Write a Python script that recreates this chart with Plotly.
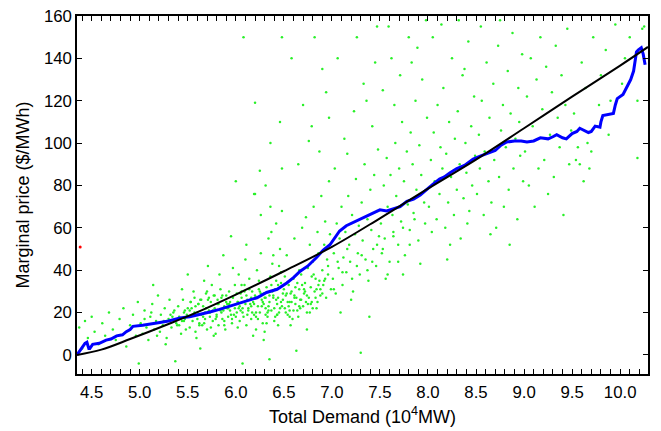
import plotly.graph_objects as go

# blue running curve
blue_x = [4.347, 4.38, 4.41, 4.43, 4.45, 4.47, 4.48, 4.51, 4.58, 4.65,
          4.70, 4.76, 4.82, 4.86, 4.90, 4.93, 5.03, 5.12, 5.21, 5.30,
          5.42, 5.52, 5.625, 5.73, 5.83, 5.97, 6.10, 6.22, 6.32, 6.43,
          6.53, 6.60, 6.67, 6.75, 6.84, 6.91, 6.98, 7.03, 7.08, 7.15,
          7.22, 7.29, 7.36, 7.43, 7.50, 7.57, 7.64, 7.71, 7.78, 7.85,
          7.92, 7.98, 8.05, 8.12, 8.17, 8.23, 8.30, 8.38, 8.47, 8.55,
          8.62, 8.70, 8.76, 8.82, 8.90, 8.97, 9.03, 9.10, 9.17, 9.25,
          9.30, 9.34, 9.40, 9.44, 9.50, 9.55, 9.58, 9.63, 9.67, 9.70,
          9.74, 9.79, 9.80, 9.82, 9.87, 9.93, 9.95, 9.97, 10.03, 10.08,
          10.11, 10.14, 10.16, 10.17, 10.19, 10.22, 10.24, 10.25, 10.26]
blue_y = [0, 2, 4, 5.5, 6, 3, 3, 5, 5.5, 7,
          7.5, 9, 9.5, 11, 12, 13.5, 14, 14.5, 15.3, 16,
          17.5, 18, 19, 20.3, 21.5, 23.5, 25, 27, 29.5, 31,
          34, 36.5, 39.5, 42, 46, 49.5, 52, 55.5, 58.5, 61,
          62.5, 64, 65.5, 67, 68.5, 68, 69, 70, 72.5, 73.5,
          75.5, 78, 80.5, 83, 84, 86, 88, 89.5, 92.5, 94,
          95, 96.5, 99, 100.5, 101, 101, 100.5, 101, 102.5, 102,
          103, 104, 102.5, 102, 104.5, 105.5, 107, 106, 105, 105.5,
          108, 107.5, 110, 113, 113.5, 114, 118, 121, 123, 127,
          130, 134, 139, 143, 144, 145, 142, 139, 137]

# black fitted curve
fit_x = [4.347, 4.6, 4.9, 5.3, 5.6, 6.0, 6.5, 7.0, 7.5, 8.0, 8.5, 9.0, 9.5, 10.0, 10.29]
fit_y = [0, 2.5, 7.5, 14.6, 20.2, 28.5, 39.5, 51, 64.5, 78.5, 92.2, 107, 121.9, 136.6, 145.4]

# green cloud, by demand band
dots_x = [
    4.37, 4.40, 4.43, 4.46, 4.50, 4.53, 4.57, 4.61, 4.64, 4.68,
    4.72, 4.75, 4.79, 4.83, 4.86, 4.90, 4.93, 4.96, 4.98, 4.99,
    5.01, 5.03, 5.05, 5.07, 5.09, 5.11, 5.13, 5.15, 5.17, 5.19,
    5.21, 5.22, 5.24, 5.26, 5.28, 5.30, 5.31, 5.33, 5.35, 5.37,
    5.38, 5.40, 5.41, 5.43, 5.44, 5.46, 5.47, 5.48, 5.49, 5.50,
    5.05, 5.12, 5.18, 5.25, 5.32, 5.39, 5.45, 5.14, 5.27, 5.42,
    5.51, 5.52, 5.54, 5.55, 5.57, 5.58, 5.60, 5.61, 5.62, 5.64,
    5.65, 5.66, 5.68, 5.69, 5.70, 5.72, 5.73, 5.74, 5.76, 5.77,
    5.78, 5.80, 5.81, 5.82, 5.84, 5.85, 5.86, 5.88, 5.89, 5.90,
    5.92, 5.93, 5.94, 5.96, 5.97, 5.98, 5.99, 5.53, 5.59, 5.67,
    5.71, 5.79, 5.83, 5.87, 5.91, 5.95, 5.56, 5.63, 5.75, 5.97,
    5.52, 5.60, 5.68, 5.74, 5.82, 5.88, 5.93, 5.99, 5.64, 5.78,
    6.01, 6.02, 6.04, 6.05, 6.07, 6.08, 6.09, 6.11, 6.12, 6.13,
    6.15, 6.16, 6.17, 6.19, 6.20, 6.21, 6.23, 6.24, 6.25, 6.27,
    6.28, 6.29, 6.31, 6.32, 6.33, 6.35, 6.36, 6.37, 6.39, 6.40,
    6.41, 6.43, 6.44, 6.45, 6.47, 6.48, 6.49, 6.03, 6.10, 6.18,
    6.22, 6.26, 6.30, 6.34, 6.38, 6.42, 6.46, 6.06, 6.14, 6.36,
    6.04, 6.12, 6.20, 6.28, 6.33, 6.41, 6.47, 6.16, 6.24, 6.44,
    6.07, 6.19, 6.29, 6.37, 6.45, 6.26, 6.11, 6.39, 6.48, 6.35,
    6.51, 6.52, 6.54, 6.55, 6.56, 6.58, 6.59, 6.60, 6.62, 6.63,
    6.64, 6.66, 6.67, 6.68, 6.70, 6.71, 6.72, 6.74, 6.75, 6.76,
    6.78, 6.79, 6.80, 6.82, 6.83, 6.84, 6.86, 6.87, 6.88, 6.90,
    6.91, 6.92, 6.94, 6.95, 6.96, 6.98, 6.99, 6.53, 6.61, 6.69,
    6.73, 6.77, 6.81, 6.85, 6.89, 6.93, 6.97, 6.57, 6.65, 6.74,
    6.79, 6.87, 6.94, 6.58, 6.70, 6.82, 6.90, 6.63, 6.76, 6.97,
    7.01, 7.02, 7.04, 7.05, 7.07, 7.08, 7.10, 7.11, 7.12, 7.14,
    7.15, 7.17, 7.18, 7.19, 7.21, 7.22, 7.24, 7.25, 7.27, 7.28,
    7.29, 7.31, 7.32, 7.34, 7.35, 7.37, 7.38, 7.40, 7.41, 7.43,
    7.44, 7.46, 7.47, 7.48, 7.49, 7.03, 7.13, 7.23, 7.33, 7.42,
    7.06, 7.16, 7.26, 7.36, 7.45, 7.09, 7.20, 7.30, 7.39, 7.47,
    7.51, 7.52, 7.54, 7.55, 7.57, 7.58, 7.60, 7.61, 7.63, 7.64,
    7.66, 7.67, 7.69, 7.70, 7.72, 7.73, 7.75, 7.76, 7.78, 7.79,
    7.81, 7.82, 7.84, 7.85, 7.87, 7.88, 7.90, 7.91, 7.93, 7.94,
    7.96, 7.97, 7.99, 7.53, 7.62, 7.71, 7.80, 7.89, 7.98, 7.56,
    7.65, 7.74, 7.83, 7.92, 7.59, 6.08, 6.20, 6.25, 6.00, 6.31,
    8.01, 8.03, 8.04, 8.06, 8.07, 8.09, 8.10, 8.12, 8.13, 8.15,
    8.16, 8.18, 8.19, 8.21, 8.22, 8.24, 8.25, 8.27, 8.28, 8.30,
    8.31, 8.33, 8.34, 8.36, 8.37, 8.39, 8.40, 8.42, 8.43, 8.45,
    8.46, 8.48, 8.49, 8.05, 8.14, 8.23, 8.32, 8.41, 8.20, 8.38,
    8.51, 8.53, 8.54, 8.56, 8.58, 8.59, 8.61, 8.63, 8.64, 8.66,
    8.68, 8.69, 8.71, 8.73, 8.74, 8.76, 8.78, 8.79, 8.81, 8.83,
    8.84, 8.86, 8.88, 8.89, 8.91, 8.93, 8.94, 8.96, 8.98, 8.99,
    8.55, 8.65, 8.75, 8.85, 8.95, 6.36, 6.48, 6.46, 6.48, 6.20,
    9.01, 9.03, 9.05, 9.07, 9.09, 9.11, 9.13, 9.15, 9.17, 9.19,
    9.21, 9.23, 9.25, 9.27, 9.29, 9.31, 9.33, 9.35, 9.37, 9.39,
    9.41, 9.43, 9.45, 9.47, 9.49, 10.23, 10.18, 9.62, 9.70, 9.58,
    9.52, 9.56, 9.60, 9.64, 9.68, 9.72, 9.76, 9.80, 9.85, 9.90,
    9.95, 10.02, 10.10, 10.18, 10.25, 9.54, 9.66, 9.78, 9.88, 10.05,
    5.34, 5.46, 5.58, 5.66, 5.73, 5.81, 5.87, 5.94, 6.00, 6.06,
    6.13, 6.18, 6.23, 6.30, 6.34, 6.38, 6.42, 6.46, 6.50, 6.54,
    6.57, 6.60, 6.64, 6.68, 6.71, 6.75, 6.79, 6.83, 6.86, 6.90,
    6.09, 6.21, 6.32, 6.43, 6.56, 6.66, 6.77, 5.90, 5.77, 6.02,
    5.36, 5.41, 5.47, 5.53, 5.57, 5.62, 5.69, 5.72, 5.79, 5.84,
    5.91, 5.95, 6.01, 6.05, 6.10, 6.14, 6.17, 6.22, 6.27, 6.31,
    6.35, 6.40, 6.44, 6.49, 6.52, 6.58, 6.62, 6.67, 6.72, 6.81,
    6.85, 6.92, 6.96, 7.02, 7.06, 7.11, 7.16, 7.21, 7.26, 7.31,
    7.37, 7.42, 7.47, 7.53, 7.58, 7.64, 7.69, 7.74, 7.81, 7.86,
    5.63, 5.85, 6.03, 6.15, 6.26, 6.37, 6.51, 6.61, 6.73, 6.88,
    5.44, 5.50, 5.55, 5.61, 5.67, 5.71, 5.76, 5.80, 5.86, 5.92,
    5.96, 6.02, 6.07, 6.11, 6.16, 6.21, 6.25, 6.29, 6.34, 6.39,
    6.43, 6.47, 6.53, 6.56, 6.61, 6.65, 6.69, 6.74, 6.78, 6.84,
    5.70, 5.88, 6.06, 6.19, 6.31, 6.42, 6.55, 6.66, 6.80, 6.93,
]
dots_y = [
    13, 3, 16, 8, 18, 11, 5, 15, 9, 20,
    12, 7, 17, 22, 4, 14, 19, 9, 25, -4,
    15, 10, 21, 13, 7, 18, 24, 12, 16, 28,
    11, 19, 14, 22, 8, 17, 26, 13, 20, -3,
    15, 23, 18, 10, 31, 16, 21, 12, 19, 38,
    17, 20, 9, 16, 19, 14, 26, 33, 5, 17,
    18, 13, 22, 16, 27, 11, 20, 24, 15, 19,
    14, 23, 17, 29, 12, 21, 18, 25, 16, 9,
    22, 19, 26, 14, 31, 20, 17, 23, 12, 28,
    18, 24, 21, 15, 27, 19, 33, 25, 8, 35,
    42, 10, 38, 47, 22, 56, 30, 3, 33, 41,
    21, 17, 20, 13, 24, 16, 30, 22, 26, 28,
    20, 25, 16, 29, 22, 18, 33, 14, 26, 21,
    24, 17, 30, 19, 27, 12, 23, 35, 20, 26,
    15, 29, 22, 32, 18, 25, 37, 21, 28, 16,
    31, 24, 27, 20, 34, 23, 29, 38, 45, 9,
    40, 48, 11, 55, 43, 62, 50, 30, 36, 70,
    23, 19, 28, 25, 20, 18, 39, 27, 31, 14,
    -4, 76, 7, 58, 42, 66, 52, 47, 68, -2,
    22, 28, 19, 33, 25, 30, 17, 36, 24, 27,
    21, 31, 26, 38, 23, 29, 34, 20, 41, 27,
    32, 25, 44, 30, 36, 22, 48, 35, 28, 40,
    33, 52, 27, 45, 38, 57, 31, 47, 55, 60,
    65, 52, 70, 58, 75, 63, 82, 14, 90, 12,
    108, 96, 124, 140, 118, 150, 135, 2, 101, 112,
    36, 48, 29, 62, 41, 55, 70, 33, 46, 58,
    39, 75, 52, 44, 66, 30, 57, 83, 48, 61,
    38, 72, 54, 90, 45, 64, 35, 78, 59, 50,
    85, 42, 68, 97, 56, 88, 102, 115, 128, 108,
    140, 95, 150, 120, 138, 20, 26, 1, 18, 155,
    62, 48, 80, 55, 93, 70, 44, 85, 66, 58,
    100, 75, 52, 88, 63, 110, 82, 47, 96, 71,
    59, 105, 90, 67, 120, 78, 54, 99, 85, 130,
    72, 62, 112, 125, 140, 132, 150, 145, 158, 36,
    118, 38, 138, 43, 155, 150, 119, 87, 82, 80,
    70, 92, 58, 105, 82, 64, 118, 76, 98, 88,
    126, 60, 95, 72, 110, 84, 140, 66, 102, 78,
    115, 90, 55, 132, 74, 100, 86, 148, 68, 108,
    80, 122, 94, 150, 156, 52, 158, 62, 45, 135,
    76, 104, 88, 120, 66, 96, 138, 82, 112, 72,
    128, 92, 60, 146, 84, 106, 118, 70, 98, 134,
    78, 114, 152, 88, 102, 64, 126, 94, 142, 82,
    155, 57, 158, 52, 110, 100, 150, 110, 88, 76,
    96, 122, 80, 140, 108, 70, 130, 88, 150, 116,
    92, 136, 76, 104, 124, 84, 146, 112, 98, 132,
    66, 118, 154, 90, 106, 154, 93, 82, 96, 90,
    114, 98, 138, 126, 88, 150, 108, 132, 144, 120,
    156, 128, 150, 120, 155, 92, 100, 118, 104, 140,
    18, 20, 23, 18, 20, 24, 21, 25, 18, 27,
    22, 25, 17, 27, 23, 30, 26, 22, 31, 25,
    29, 21, 34, 26, 31, 24, 37, 27, 33, 29,
    30, 20, 15, 19, 18, 23, 20, 25, 28, 13,
    21, 14, 17, 25, 20, 14, 22, 27, 17, 21,
    24, 19, 29, 21, 24, 31, 20, 27, 23, 19,
    28, 22, 33, 26, 20, 25, 32, 22, 30, 38,
    25, 35, 42, 31, 44, 39, 50, 36, 42, 47,
    40, 44, 52, 50, 38, 56, 44, 60, 52, 64,
    26, 27, 22, 26, 29, 33, 37, 28, 25, 31,
    16, 22, 19, 24, 15, 26, 21, 18, 28, 22,
    17, 25, 20, 28, 23, 18, 30, 24, 21, 27,
    19, 25, 29, 21, 27, 18, 33, 28, 24, 31,
    30, 14, 33, 24, 27, 35, 23, 40, 22, 36,
]

# one stray red point near the left axis
red_x = [4.38]
red_y = [51]

fig = go.Figure()
fig.add_trace(go.Scatter(x=dots_x, y=dots_y, mode="markers",
                         marker=dict(color="rgb(40,240,40)", size=2.5, line_width=0),
                         hoverinfo="skip"))
fig.add_trace(go.Scatter(x=red_x, y=red_y, mode="markers",
                         marker=dict(color="red", size=3, line_width=0)))
fig.add_trace(go.Scatter(x=blue_x, y=blue_y, mode="lines",
                         line=dict(color="#0000ff", width=3)))
fig.add_trace(go.Scatter(x=fit_x, y=fit_y, mode="lines", line_shape="spline",
                         line=dict(color="black", width=2)))

# page body adds an 8px offset, so the figure is a bit smaller than the window
font = "Liberation Sans, Arial, Helvetica, sans-serif"
fig.update_layout(
    width=653, height=423,
    margin=dict(l=69, r=13, t=8, b=57),
    paper_bgcolor="white", plot_bgcolor="white",
    showlegend=False,
    font=dict(family=font, size=15.3, color="black"),
)
fig.update_xaxes(
    range=[4.347, 10.29], tick0=4.5, dtick=0.5, tickformat=".1f",
    ticks="inside", ticklen=5, tickwidth=1, tickcolor="black",
    minor=dict(dtick=0.1, ticks="inside", ticklen=5, tickwidth=1, tickcolor="black"),
    showline=True, linecolor="black", linewidth=1.5, mirror="ticks",
    showgrid=False, zeroline=False, automargin=False,
    tickfont=dict(size=16.8), ticklabelstandoff=2, ticklabeloverflow="allow",
    title=dict(text="Total Demand (10<sup>4</sup>MW)", standoff=9),
)
fig.update_yaxes(
    range=[-9, 160], tick0=0, dtick=20,
    ticks="inside", ticklen=5, tickwidth=1, tickcolor="black",
    showline=True, linecolor="black", linewidth=1.5, mirror="ticks",
    showgrid=False, zeroline=False, automargin=False,
    tickfont=dict(size=16.8), ticklabeloverflow="allow",
    title=dict(text="Marginal price ($/MWh)", standoff=10),
)

fig.write_html("out.html")
